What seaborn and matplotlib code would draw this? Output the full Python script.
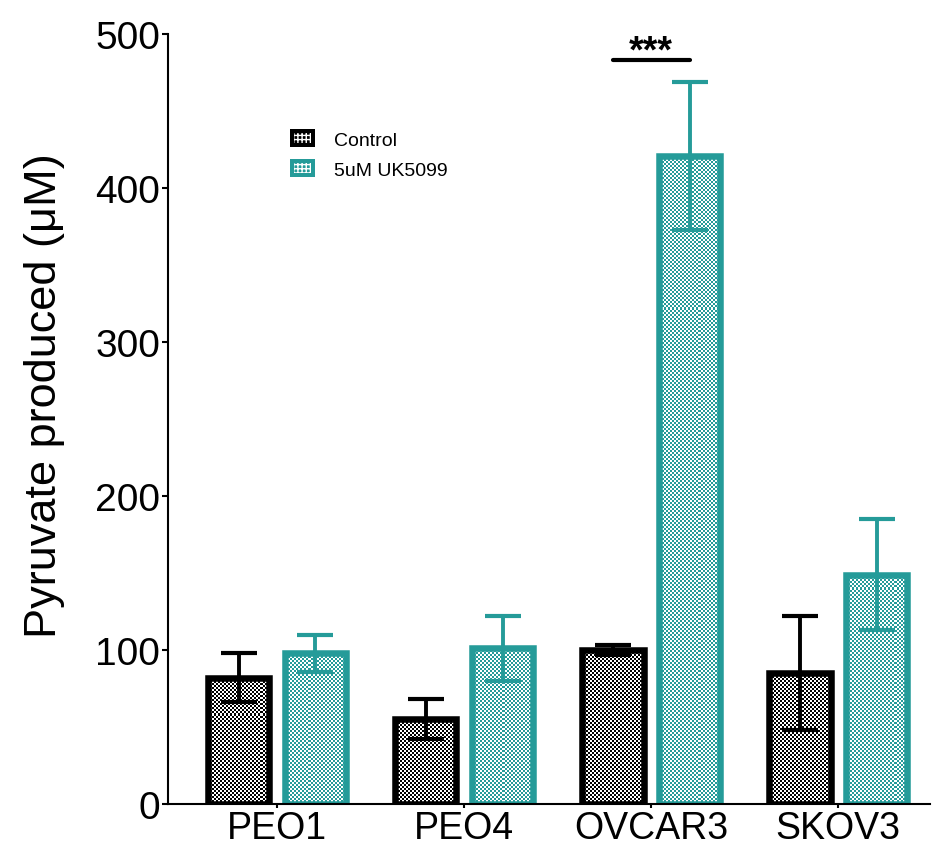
import numpy as np
import pandas as pd
import matplotlib
matplotlib.use("Agg")
import matplotlib.pyplot as plt
import seaborn as sns
from matplotlib.patches import Rectangle, Patch
from matplotlib.legend_handler import HandlerBase
from matplotlib.colors import ListedColormap

# ---- data ----
categories = ["PEO1", "PEO4", "OVCAR3", "SKOV3"]
groups = ["Control", "5uM UK5099"]
control_mean = [82, 55, 100, 85]
control_sd = [16, 13, 3, 37]
uk_mean = [98, 101, 421, 149]
uk_sd = [12, 21, 48, 36]
y_ticks = [0, 100, 200, 300, 400, 500]

BLACK = "#000000"
TEAL = "#259b99"
colors = [BLACK, TEAL]

df = pd.DataFrame({
    "line": categories * 2,
    "group": [groups[0]] * 4 + [groups[1]] * 4,
    "value": control_mean + uk_mean,
})
sds = [control_sd, uk_sd]
means = [control_mean, uk_mean]

sns.set_style("ticks")
plt.rcParams["font.family"] = ["Liberation Sans", "DejaVu Sans"]
plt.rcParams["hatch.linewidth"] = 1.0
for key in ["text.color", "axes.labelcolor", "xtick.color", "ytick.color",
            "axes.edgecolor"]:
    plt.rcParams[key] = "black"
plt.rcParams["axes.facecolor"] = "white"
plt.rcParams["figure.facecolor"] = "white"

W, H = 934, 845
fig = plt.figure(figsize=(W / 100, H / 100), dpi=100)
ax_l, ax_r, ax_b, ax_t = 168, 930, 805, 35
ax = fig.add_axes([ax_l / W, (H - ax_b) / H, (ax_r - ax_l) / W, (ax_b - ax_t) / H])

sns.barplot(data=df, x="line", y="value", hue="group", order=categories,
            hue_order=groups, palette=colors, width=0.82, gap=0.2,
            errorbar=None, legend=False, ax=ax)

ax.set_xlim(-0.583, 3.49)
ax.set_ylim(0, 500)

# checker texture
nx = int((ax_r - ax_l) / 2)
ny = int((ax_b - ax_t) / 2)
ii, jj = np.indices((ny, nx))
checker = ((ii + jj) % 2).astype(float)
extent = list(ax.get_xlim()) + list(ax.get_ylim())

bar_containers = list(ax.containers)
centers = []
for k, cont in enumerate(bar_containers):
    col = colors[k]
    cmap = ListedColormap(["white", col])
    xs = []
    for p in cont.patches:
        p.set_facecolor("none")
        p.set_edgecolor(col)
        p.set_linewidth(4.7)
        p.set_zorder(2)
        im = ax.imshow(checker, cmap=cmap, extent=extent, origin="lower",
                       interpolation="nearest", aspect="auto", zorder=1.9)
        im.set_clip_path(p)
        xs.append(p.get_x() + p.get_width() / 2)
    centers.append(xs)

for k in range(len(groups)):
    ax.errorbar(centers[k], means[k], yerr=sds[k], fmt="none", ecolor=colors[k],
                elinewidth=2.8, capsize=13, capthick=3.0, zorder=3)

ax.set_xlim(-0.583, 3.49)
ax.set_ylim(0, 500)

# significance marker
x0, x1 = centers[0][2], centers[1][2]
ax.plot([x0, x1], [483, 483], color="black", lw=3, clip_on=False,
        solid_capstyle="round", zorder=4)
ax.text((x0 + x1) / 2, 482, "***", ha="center", va="baseline",
        fontsize=27, fontweight="bold", clip_on=False)

# axes styling
sns.despine(ax=ax)
for s in ["left", "bottom"]:
    ax.spines[s].set_linewidth(1.5)
ax.set_yticks(y_ticks)
ax.set_yticklabels([str(t) for t in y_ticks], fontsize=28)
ax.tick_params(axis="y", length=4, width=1.5, pad=1.5, direction="out")
ax.tick_params(axis="x", length=3, width=1.5, pad=1, labelsize=27)
ax.set_xlabel("")
ax.set_ylabel("Pyruvate produced (\u03bcM)", fontsize=32.5, labelpad=22)
ax.yaxis.label.set_y(0.532)


class CheckHandler(HandlerBase):
    def create_artists(self, legend, orig_handle, xdescent, ydescent,
                       width, height, fontsize, trans):
        c = orig_handle.get_facecolor()
        outer = Rectangle((-xdescent, -ydescent), width, height,
                          facecolor=c, edgecolor="none", transform=trans)
        pad = 0.22 * height
        inner = Rectangle((-xdescent + pad, -ydescent + pad),
                          width - 2 * pad, height - 2 * pad,
                          facecolor=c, edgecolor="white", hatch="++++",
                          lw=0, transform=trans)
        return [outer, inner]


handles = [Patch(facecolor=c) for c in colors]
leg = ax.legend(handles, groups, loc="upper left",
                bbox_to_anchor=((290 - ax_l) / (ax_r - ax_l), (ax_b - 130) / (ax_b - ax_t)),
                frameon=False, fontsize=14, borderpad=0, handlelength=1.3,
                handleheight=1.05, handletextpad=0.95, labelspacing=0.55,
                borderaxespad=0,
                handler_map={Patch: CheckHandler()})

fig.savefig("out.png", dpi=100)
